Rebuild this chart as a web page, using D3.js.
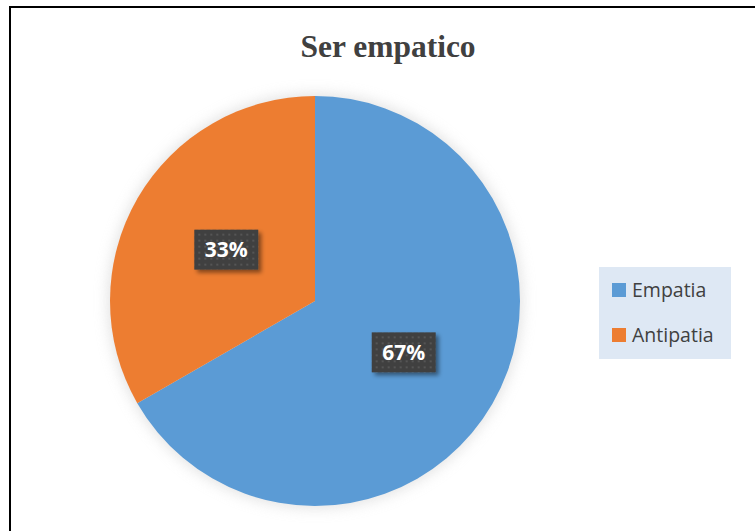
<!DOCTYPE html>
<html>
<head>
<meta charset="utf-8">
<script src="https://cdn.jsdelivr.net/npm/d3@7"></script>
<style>
  body { margin: 0; background: #fff; }
  svg { display: block; }
</style>
</head>
<body>
<div id="chart"></div>
<script>
// chart data
const categories = ["Empatia", "Antipatia"];
const values = [66.7, 33.3];
const pctLabels = ["67%", "33%"];
const colors = ["#5B9BD5", "#ED7D31"];
const title = "Ser empatico";

const width = 755, height = 531;
const cx = 315, cy = 301, r = 205;

const svg = d3.select("#chart")
  .append("svg")
  .attr("width", width)
  .attr("height", height);

const defs = svg.append("defs");

// soft halo around the pie
const halo = defs.append("filter").attr("id", "halo")
  .attr("x", "-20%").attr("y", "-20%").attr("width", "140%").attr("height", "140%");
halo.append("feGaussianBlur").attr("stdDeviation", 7);

// label box shadow
const sh = defs.append("filter").attr("id", "lblShadow")
  .attr("x", "-30%").attr("y", "-30%").attr("width", "160%").attr("height", "160%");
sh.append("feDropShadow").attr("dx", 3).attr("dy", 3).attr("stdDeviation", 2)
  .attr("flood-color", "#000").attr("flood-opacity", 0.45);

// dotted pattern on label boxes
const pat = defs.append("pattern").attr("id", "dots")
  .attr("width", 6).attr("height", 6).attr("patternUnits", "userSpaceOnUse");
pat.append("rect").attr("width", 6).attr("height", 6).attr("fill", "#404040");
pat.append("rect").attr("x", 2).attr("y", 2).attr("width", 2).attr("height", 2).attr("fill", "#555555");

// outer border
svg.append("rect")
  .attr("x", 10).attr("y", 7)
  .attr("width", width + 10).attr("height", height + 10)
  .attr("fill", "none")
  .attr("stroke", "#000")
  .attr("stroke-width", 2);

// title
svg.append("text")
  .attr("x", 388)
  .attr("y", 57)
  .attr("text-anchor", "middle")
  .style("font-family", "'Liberation Serif', 'Times New Roman', serif")
  .style("font-weight", "bold")
  .style("font-size", "31.5px")
  .style("fill", "#404040")
  .text(title);

const pie = d3.pie().sort(null).value(d => d);
const arcs = pie(values);
const arc = d3.arc().innerRadius(0).outerRadius(r);
const labelArc = d3.arc().innerRadius(r * 0.5).outerRadius(r * 0.5);

const g = svg.append("g").attr("transform", "translate(" + cx + "," + cy + ")");

g.append("circle")
  .attr("r", r + 2)
  .attr("fill", "#cfcfcf")
  .attr("opacity", 0.6)
  .attr("filter", "url(#halo)");

g.selectAll("path.slice")
  .data(arcs)
  .enter()
  .append("path")
  .attr("class", "slice")
  .attr("d", arc)
  .attr("fill", (d, i) => colors[i]);

// percentage labels
const lbl = g.selectAll("g.lbl")
  .data(arcs)
  .enter()
  .append("g")
  .attr("class", "lbl")
  .attr("transform", d => "translate(" + labelArc.centroid(d) + ")");

lbl.append("rect")
  .attr("x", -32).attr("y", -20)
  .attr("width", 64).attr("height", 40)
  .attr("fill", "url(#dots)")
  .attr("filter", "url(#lblShadow)");

lbl.append("text")
  .attr("text-anchor", "middle")
  .attr("dy", "0.36em")
  .style("font-family", "'Open Sans', 'Liberation Sans', sans-serif")
  .style("font-weight", "bold")
  .style("font-size", "21px")
  .style("fill", "#fff")
  .text((d, i) => pctLabels[i]);

// legend
const legend = svg.append("g").attr("transform", "translate(599,267)");
legend.append("rect")
  .attr("width", 132).attr("height", 92)
  .attr("fill", "#DEE8F4");

const item = legend.selectAll("g.item")
  .data(categories)
  .enter()
  .append("g")
  .attr("class", "item")
  .attr("transform", (d, i) => "translate(13," + (16 + i * 45) + ")");

item.append("rect")
  .attr("width", 14).attr("height", 14)
  .attr("fill", (d, i) => colors[i]);

item.append("text")
  .attr("x", 20)
  .attr("y", 14)
  .style("font-family", "'Open Sans', 'Liberation Sans', sans-serif")
  .style("font-size", "19.5px")
  .style("fill", "#404040")
  .text(d => d);
</script>
</body>
</html>
